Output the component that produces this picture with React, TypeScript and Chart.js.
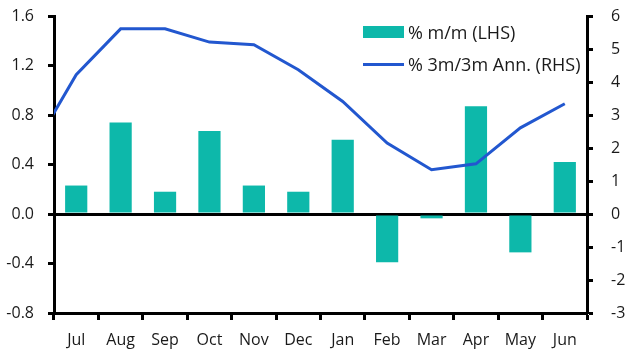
import React, { useEffect, useRef } from "react";
import { Chart, registerables } from "chart.js";

Chart.register(...registerables);

const months = ["Jul", "Aug", "Sep", "Oct", "Nov", "Dec", "Jan", "Feb", "Mar", "Apr", "May", "Jun"];
const mmValues = [0.23, 0.74, 0.18, 0.67, 0.23, 0.18, 0.6, -0.39, -0.035, 0.87, -0.31, 0.42];
// 3m/3m annualised, starting with the prior month (June of the previous year)
const annPrior = 1.92;
const annValues = [4.22, 5.61, 5.61, 5.21, 5.13, 4.37, 3.41, 2.15, 1.34, 1.52, 2.61, 3.34];
const leftTicks = [-0.8, -0.4, 0, 0.4, 0.8, 1.2, 1.6];
const rightTicks = [-3, -2, -1, 0, 1, 2, 3, 4, 5, 6];

const TEAL = "#0DB8AA";
const BLUE = "#2257CF";
const FONT = "'Open Sans', 'Noto Sans', sans-serif";

export default function App() {
  const ref = useRef<HTMLCanvasElement | null>(null);

  useEffect(() => {
    if (!ref.current) return;
    const linePoints = [{ x: -1, y: annPrior }].concat(
      annValues.map((v, i) => ({ x: i, y: v }))
    );
    const chart = new Chart(ref.current, {
      type: "bar",
      data: {
        labels: months,
        datasets: [
          {
            type: "line",
            label: "% 3m/3m Ann. (RHS)",
            data: linePoints as any,
            xAxisID: "xl",
            yAxisID: "y1",
            borderColor: BLUE,
            backgroundColor: BLUE,
            borderWidth: 3,
            pointRadius: 0,
            tension: 0,
            clip: 0 as any,
            order: 0,
          } as any,
          {
            type: "bar",
            label: "% m/m (LHS)",
            data: mmValues,
            xAxisID: "x",
            yAxisID: "y",
            backgroundColor: TEAL,
            barPercentage: 0.5,
            categoryPercentage: 1,
            grouped: false,
            order: 1,
          } as any,
        ],
      },
      options: {
        responsive: false,
        animation: false,
        layout: { padding: { top: 16, left: 0, right: 0, bottom: 0 } },
        plugins: { legend: { display: false }, tooltip: { enabled: false } },
        scales: {
          x: {
            type: "category",
            offset: true,
            border: { display: true, color: "#000", width: 3 },
            grid: {
              display: true,
              offset: true,
              drawOnChartArea: false,
              drawTicks: true,
              tickLength: 7,
              tickColor: "#000",
              tickWidth: 3,
            } as any,
            ticks: { color: "#1a1a1a", font: { family: FONT, size: 16 }, padding: 11, maxRotation: 0 },
            afterFit: (s: any) => {
              s.height = 42;
              s.paddingLeft = 0;
              s.paddingRight = 0;
            },
          },
          xl: {
            type: "linear",
            display: false,
            offset: false,
            min: -0.5,
            max: 11.5,
            grid: { offset: false },
          } as any,
          y: {
            type: "linear",
            position: "left",
            min: -0.8,
            max: 1.6,
            afterBuildTicks: (s: any) => {
              s.ticks = leftTicks.map((v) => ({ value: v }));
            },
            border: { display: true, color: "#000", width: 3 },
            grid: {
              drawOnChartArea: true,
              drawTicks: true,
              tickLength: 6,
              tickColor: "#000",
              tickWidth: 3,
              color: (c: any) => (c.tick && Math.abs(c.tick.value) < 1e-9 ? "#000" : "rgba(0,0,0,0)"),
              lineWidth: 3,
            } as any,
            ticks: {
              color: "#1a1a1a",
              font: { family: FONT, size: 16 },
              padding: 14,
              callback: (v: any) => Number(v).toFixed(1),
            },
            afterFit: (s: any) => {
              s.width = 54;
              s.paddingTop = 0;
              s.paddingBottom = 0;
            },
          },
          y1: {
            type: "linear",
            position: "right",
            min: -3,
            max: 6,
            afterBuildTicks: (s: any) => {
              s.ticks = rightTicks.map((v) => ({ value: v }));
            },
            border: { display: true, color: "#000", width: 3 },
            grid: {
              drawOnChartArea: false,
              drawTicks: true,
              tickLength: 6,
              tickColor: "#000",
              tickWidth: 3,
            } as any,
            ticks: {
              color: "#1a1a1a",
              font: { family: FONT, size: 16 },
              padding: 18,
              callback: (v: any) => String(v),
            },
            afterFit: (s: any) => {
              s.width = 43;
              s.paddingTop = 0;
              s.paddingBottom = 0;
            },
          },
        },
      },
    });
    return () => chart.destroy();
  }, []);

  const legendText: React.CSSProperties = {
    fontFamily: FONT,
    fontSize: 18,
    color: "#1a1a1a",
    lineHeight: "20px",
    whiteSpace: "nowrap",
  };

  return (
    <div style={{ position: "fixed", left: 0, top: 0, width: 630, height: 355, background: "#fff" }}>
      <canvas ref={ref} width={630} height={355} style={{ display: "block", width: 630, height: 355 }} />
      <div style={{ position: "absolute", left: 363, top: 22, ...legendText }}>
        <div style={{ display: "flex", alignItems: "center", height: 20 }}>
          <span style={{ display: "inline-block", width: 41, height: 12, background: TEAL, marginRight: 4 }} />
          <span>% m/m (LHS)</span>
        </div>
        <div style={{ display: "flex", alignItems: "center", height: 20, marginTop: 12 }}>
          <span style={{ display: "inline-block", width: 41, height: 3, background: BLUE, marginRight: 4 }} />
          <span>% 3m/3m Ann. (RHS)</span>
        </div>
      </div>
    </div>
  );
}
